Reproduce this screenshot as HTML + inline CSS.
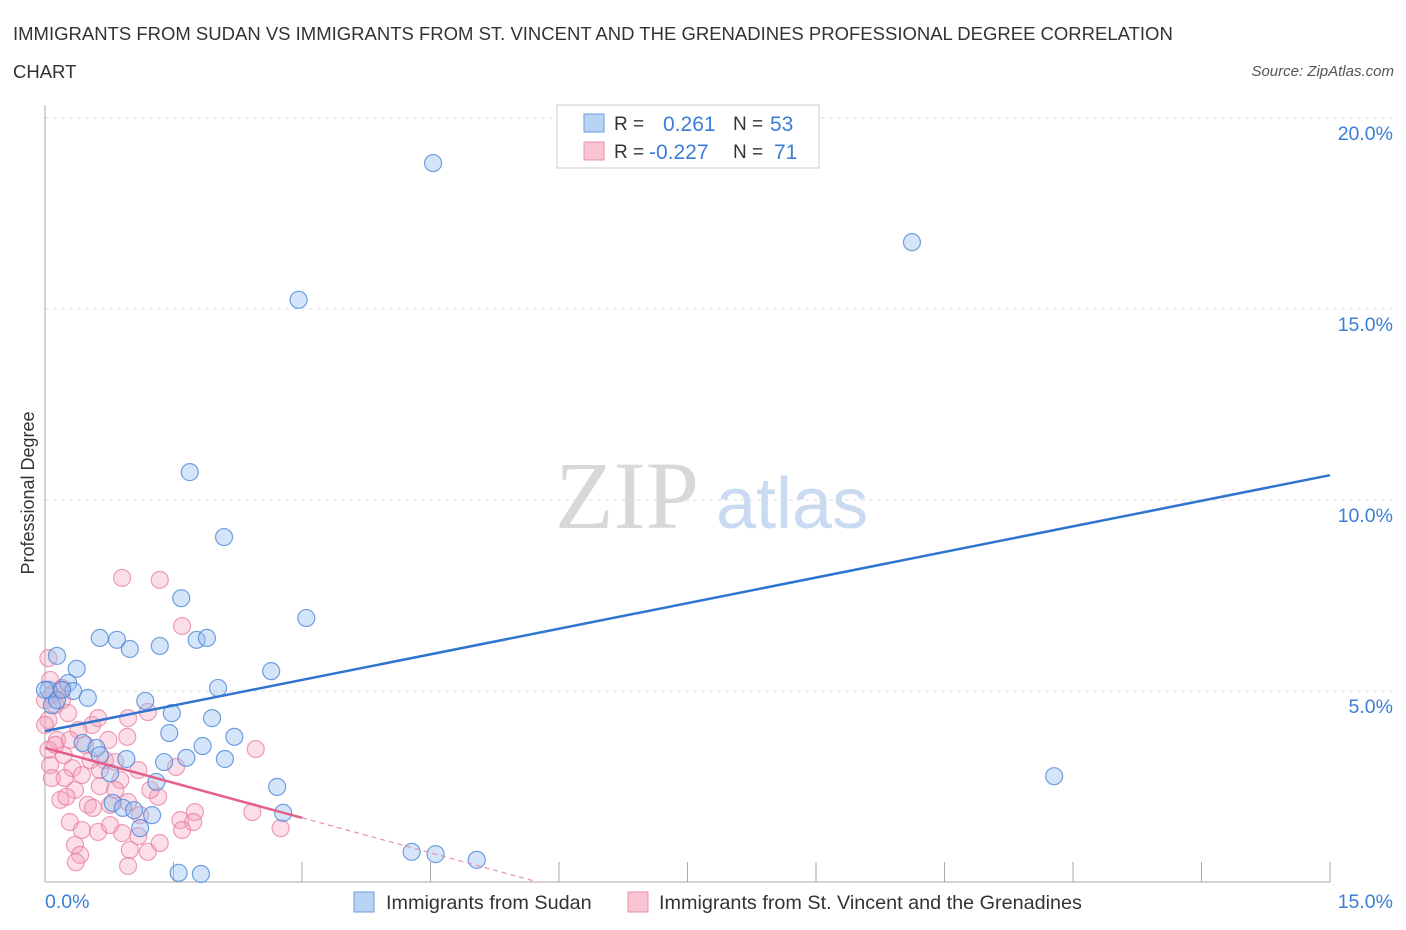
<!DOCTYPE html>
<html><head><meta charset="utf-8">
<style>
body{margin:0;background:#fff;font-family:"Liberation Sans",sans-serif;}
svg{display:block}
</style></head>
<body>
<svg id="chart" width="1406" height="930" viewBox="0 0 1406 930">
<text x="13" y="40" font-size="18.5" fill="#333">IMMIGRANTS FROM SUDAN VS IMMIGRANTS FROM ST. VINCENT AND THE GRENADINES PROFESSIONAL DEGREE CORRELATION</text>
<text x="13" y="78" font-size="18.5" fill="#333">CHART</text>
<text x="1394" y="76" font-size="15" fill="#555" font-style="italic" text-anchor="end">Source: ZipAtlas.com</text>
<text x="555" y="528" font-size="96" fill="#d8d8d8" font-family="Liberation Serif,serif">ZIP</text>
<text x="716" y="528" font-size="72" fill="#c9daf1">atlas</text>
<text transform="translate(34,493) rotate(-90)" font-size="18" fill="#333" text-anchor="middle">Professional Degree</text>
<g id="grid"></g><g id="ticks"></g><g id="pts"></g><g id="lines"></g>
<g>
<rect x="557" y="105" width="262" height="63" fill="#fff" stroke="#ccc"/>
<rect x="584" y="114" width="20" height="18" fill="#b9d3f5" stroke="#6a9de0"/>
<rect x="584" y="142" width="20" height="18" fill="#f8c4d2" stroke="#e890ab"/>
<text x="614" y="130" font-size="19" fill="#333">R = </text><text x="663" y="131" font-size="21" fill="#3b7dd8">0.261</text>
<text x="733" y="130" font-size="19" fill="#333">N = </text><text x="770" y="131" font-size="21" fill="#3b7dd8">53</text>
<text x="614" y="158" font-size="19" fill="#333">R = </text><text x="649" y="159" font-size="21" fill="#3b7dd8">-0.227</text>
<text x="733" y="158" font-size="19" fill="#333">N = </text><text x="774" y="159" font-size="21" fill="#3b7dd8">71</text>
</g>
<g>
<rect x="354" y="892" width="20" height="20" fill="#b9d3f5" stroke="#6a9de0"/>
<text x="386" y="909" font-size="19.8" fill="#333">Immigrants from Sudan</text>
<rect x="628" y="892" width="20" height="20" fill="#f8c4d2" stroke="#e890ab"/>
<text x="659" y="909" font-size="19.8" fill="#333">Immigrants from St. Vincent and the Grenadines</text>
</g>
</svg>
<script>
const blueX=[4.53,10.12,2.96,1.69,2.09,1.59,3.05,0.64,0.84,0.99,1.34,1.77,1.89,0.14,0.37,2.64,0.04,0.27,0.33,0.50,2.02,1.17,0.08,1.48,1.95,2.21,1.45,0.44,0.60,1.84,0.95,1.65,1.39,2.10,0.76,2.71,1.30,11.78,0.79,0.91,1.04,1.25,1.11,2.78,4.28,4.56,5.04,1.56,1.82,0.14,0.00,0.20,0.64];
const blueY=[18.82,16.75,15.24,10.73,9.03,7.43,6.91,6.39,6.34,6.10,6.18,6.34,6.39,5.92,5.58,5.52,5.03,5.21,5.00,4.82,5.08,4.74,4.63,4.42,4.29,3.80,3.90,3.64,3.51,3.56,3.22,3.25,3.14,3.22,2.85,2.49,2.62,2.77,2.07,1.94,1.88,1.75,1.41,1.81,0.79,0.73,0.58,0.24,0.21,4.76,5.03,5.03,3.32];
const pinkX=[0.90,1.34,1.60,0.04,0.18,0.08,0.04,0.20,0.27,0.97,1.20,0.55,0.14,0.39,0.74,0.96,0.22,0.06,0.32,0.53,0.70,0.82,1.09,1.53,2.46,0.08,0.23,0.43,0.64,0.88,1.32,0.64,0.35,0.18,0.50,0.76,0.97,1.75,2.42,1.58,1.73,0.29,0.56,0.43,0.62,0.90,1.60,2.75,1.09,0.35,0.99,1.20,1.34,0.76,0.41,0.36,0.97,0.04,0.12,0.29,0.00,0.47,0.82,1.11,0.06,0.20,0.12,0.62,1.23,0.25,0.00];
const pinkY=[7.96,7.91,6.70,5.86,5.03,4.90,4.24,4.76,4.42,4.29,4.45,4.11,3.72,3.98,3.72,3.80,3.32,3.06,2.98,3.19,3.19,3.14,2.93,3.01,3.48,2.72,2.72,2.80,2.93,2.67,2.23,2.51,2.41,2.15,2.02,2.02,2.09,1.83,1.83,1.62,1.57,1.57,1.94,1.36,1.31,1.28,1.36,1.41,1.20,0.97,0.84,0.79,1.02,1.49,0.71,0.52,0.42,3.46,3.59,3.72,4.11,3.59,2.41,1.75,5.29,5.08,4.63,4.29,2.41,2.23,4.76];
const yTicks=[5,10,15,20];
const xTickVals=[1.5,3,4.5,6,7.5,9,10.5,12,13.5,15];
const blueTrend=[3.95,10.65]; // y at x=0 and x=15
const pinkTrend=[3.51,-0.61]; // intercept, slope
const pinkSolidEnd=3.0;
const NS='http://www.w3.org/2000/svg';
const X=v=>45+v*1285/15, Y=v=>882-v*191/5;
function mk(tag,attrs,parent){const e=document.createElementNS(NS,tag);for(const k in attrs)e.setAttribute(k,attrs[k]);document.getElementById(parent).appendChild(e);return e;}
yTicks.forEach(t=>{
 const l=mk('line',{x1:45,x2:1392,y1:Y(t),y2:Y(t),stroke:'#ddd','stroke-dasharray':'4,4'},'grid');
 
 
 const tx=mk('text',{x:1393,y:Y(t)+22,'font-size':19.5,fill:'#3b7dd8','text-anchor':'end'},'grid');
 tx.textContent=t.toFixed(1)+'%';
 
 
});
mk('line',{x1:45,x2:45,y1:105,y2:882,stroke:'#aaa'},'ticks');
mk('line',{x1:45,x2:1330,y1:882,y2:882,stroke:'#aaa'},'ticks');
xTickVals.forEach(t=>{
 const l=mk('line',{x1:X(t),x2:X(t),y1:862,y2:882,stroke:'#aaa'},'ticks');
 
 
});
const x0=mk('text',{x:45,y:908,'font-size':19.5,fill:'#3b7dd8'},'ticks');x0.textContent='0.0%';


const x1=mk('text',{x:1393,y:908,'font-size':19.5,fill:'#3b7dd8','text-anchor':'end'},'ticks');x1.textContent='15.0%';


pinkX.forEach((v,i)=>{
 const c=mk('circle',{cx:X(v),cy:Y(pinkY[i]),r:8.5,fill:'rgba(244,160,185,0.35)',stroke:'rgba(232,120,155,0.7)','stroke-width':1.2},'pts');
 
 
});
blueX.forEach((v,i)=>{
 const c=mk('circle',{cx:X(v),cy:Y(blueY[i]),r:8.5,fill:'rgba(150,190,240,0.4)',stroke:'rgba(70,130,215,0.75)','stroke-width':1.2},'pts');
 
 
});
const bl=mk('line',{x1:X(0),y1:Y(blueTrend[0]),x2:X(15),y2:Y(blueTrend[1]),stroke:'#2f74d0','stroke-width':2.5},'lines');


const pz=-pinkTrend[0]/pinkTrend[1];
const pl=mk('line',{x1:X(0),y1:Y(pinkTrend[0]),x2:X(pinkSolidEnd),y2:Y(pinkTrend[0]+pinkTrend[1]*pinkSolidEnd),stroke:'#e2608a','stroke-width':2.5},'lines');


const pd=mk('line',{x1:X(pinkSolidEnd),y1:Y(pinkTrend[0]+pinkTrend[1]*pinkSolidEnd),x2:X(pz),y2:Y(0),stroke:'#e890ab','stroke-width':1.2,'stroke-dasharray':'5,4'},'lines');


</script>
</body></html>
